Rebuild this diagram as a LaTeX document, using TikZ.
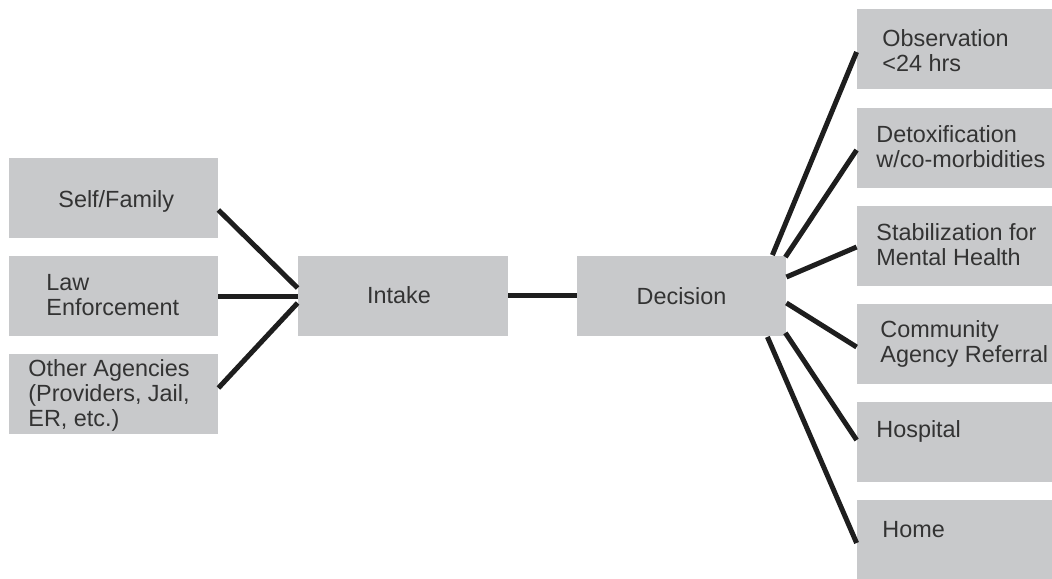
\documentclass[tikz,border=0pt]{standalone}
\usepackage{fontspec}
\setmainfont{Liberation Sans}
\usepackage{tikz}
\usepackage{xcolor}
\usetikzlibrary{calc}
\definecolor{boxgray}{HTML}{C8C9CB}
\definecolor{txtgray}{HTML}{333333}
\definecolor{linkgray}{HTML}{1E1E1E}

\begin{document}
\begin{tikzpicture}[x=0.5pt,y=-0.5pt,
  box/.style={fill=boxgray,draw=none,minimum width=104.5pt,minimum height=40pt,inner sep=0pt},
  lbl/.style={anchor=base west,align=left,inner sep=0pt,text=txtgray,font=\fontsize{11.7pt}{12.5pt}\selectfont},
  link/.style={draw=linkgray,line width=2.5pt}]
\useasboundingbox (0,0) rectangle (1052,578);
% sources
\node[box] (self) at (113.5,197.5) {};
\node[box] (law) at (113.5,296) {};
\node[box] (other) at (113.5,393.5) {};
\node[lbl] (self-t) at (58,207) {Self/Family};
\node[lbl] (law-t) at (46,315) {Law\\Enforcement};
\node[lbl] (other-t) at (28,426) {Other Agencies\\(Providers, Jail,\\ER, etc.)};
% middle
\node[box,minimum width=105pt] (intake) at (403,295.5) {};
\node[box] (decision) at (681.5,295.5) {};
\node[lbl,anchor=base] (intake-t) at (399,303) {Intake};
\node[lbl,anchor=base] (decision-t) at (681.5,304) {Decision};
% outcomes
\node[box] (obs) at (961.5,49) {};
\node[box] (detox) at (961.5,147.5) {};
\node[box] (stab) at (961.5,245.5) {};
\node[box] (comm) at (961.5,344) {};
\node[box] (hosp) at (961.5,442) {};
\node[box] (home) at (961.5,540) {};
\node[lbl] (obs-t) at (882,71) {Observation\\<24 hrs};
\node[lbl] (detox-t) at (876,167) {Detoxification\\w/co-morbidities};
\node[lbl] (stab-t) at (876,265) {Stabilization for\\Mental Health};
\node[lbl] (comm-t) at (880,362) {Community\\Agency Referral};
\node[lbl] (hosp-t) at (876,437) {Hospital};
\node[lbl] (home-t) at (882,537) {Home};
% links
\draw[link] ($(self.east)+(0,12.5)$) -- ($(intake.west)+(0,-7.5)$);
\draw[link] (law.east) -- (law.east -| intake.west);
\draw[link] ($(other.east)+(0,-5.5)$) -- ($(intake.west)+(0,7.5)$);
\draw[link] (intake.east) -- (decision.west);
\draw[link] ($(decision.north east)+(-14,0)$) -- ($(obs.west)+(0,3)$);
\draw[link] ($(decision.north east)+(-1,2)$) -- ($(detox.west)+(0,2.5)$);
\draw[link] ($(decision.east)+(0,-18.5)$) -- ($(stab.west)+(0,1.5)$);
\draw[link] ($(decision.east)+(0,7.5)$) -- ($(comm.west)+(0,3)$);
\draw[link] ($(decision.south east)+(-1,-3)$) -- ($(hosp.west)+(0,-2)$);
\draw[link] ($(decision.south east)+(-19,1)$) -- ($(home.west)+(0,3)$);
\end{tikzpicture}
\end{document}
